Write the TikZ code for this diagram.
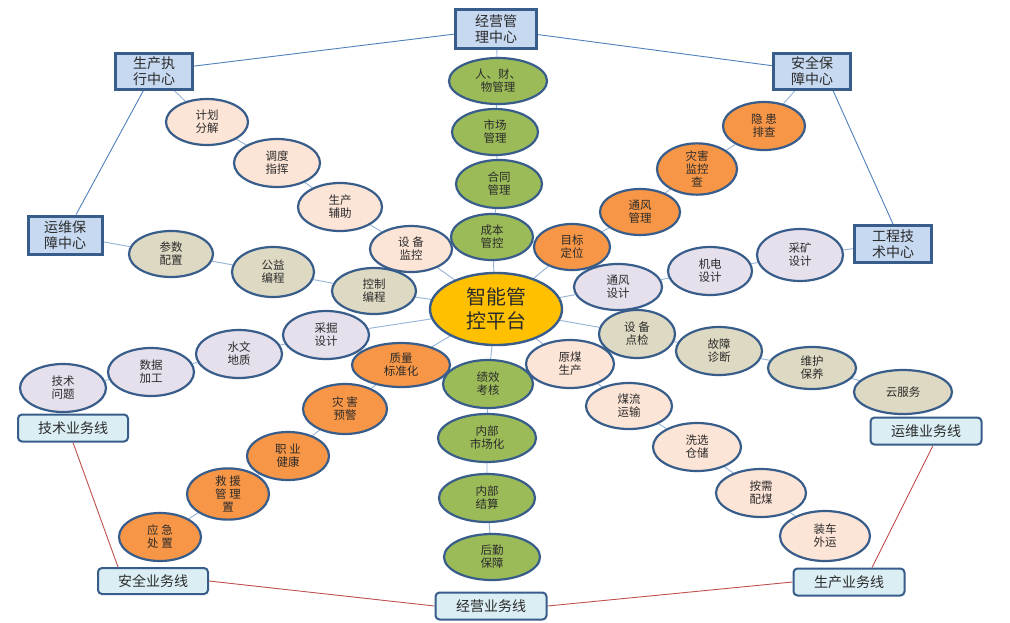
\documentclass[tikz,border=0pt]{standalone}
\usepackage{fontspec}
\setmainfont{Noto Sans CJK SC}
\usetikzlibrary{shapes.geometric,backgrounds}
\definecolor{bd}{HTML}{385D8A}
\definecolor{txt}{HTML}{2B2B2B}
\definecolor{gr}{HTML}{9BBB59}
\definecolor{pe}{HTML}{FCE4D6}
\definecolor{orr}{HTML}{F79646}
\definecolor{lv}{HTML}{E5E0EC}
\definecolor{tn}{HTML}{DDD9C3}
\definecolor{cy}{HTML}{FFC000}
\definecolor{topbox}{HTML}{C6D9F1}
\definecolor{botbox}{HTML}{DAEEF3}
\definecolor{lnk}{HTML}{95B3D7}
\definecolor{blueline}{HTML}{4F81BD}
\definecolor{redline}{HTML}{C0504D}
\begin{document}
\begin{tikzpicture}[x=1pt,y=-1pt,
  bub/.style={ellipse, draw=bd, line width=2.2pt, inner sep=0pt, align=center, text=txt,
    font=\fontsize{11.5}{13}\selectfont},
  hub/.style={ellipse, draw=bd, line width=2.4pt, inner sep=0pt, align=center, text=txt, fill=cy,
    font=\fontsize{20}{24}\selectfont},
  cbox/.style={rectangle, draw=bd, line width=3pt, fill=topbox, inner sep=0pt, align=center, text=txt,
    font=\fontsize{14}{16}\selectfont},
  lbox/.style={rectangle, rounded corners=4pt, draw=bd, line width=2pt, fill=botbox, inner sep=0pt, align=center, text=txt,
    font=\fontsize{14}{16}\selectfont},
  lk/.style={draw=lnk, line width=0.9pt},
  bl/.style={draw=blueline, line width=0.9pt},
  rl/.style={draw=redline, line width=0.9pt}]
\useasboundingbox (0,0) rectangle (1010,622);

% centre
\node[hub, minimum width=132pt, minimum height=72pt] (c) at (496,309) {智能管\\控平台};

% green column
\node[bub, fill=gr, minimum width=98pt, minimum height=46pt] (g1) at (498,81) {人、财、\\物管理};
\node[bub, fill=gr, minimum width=86pt, minimum height=46pt] (g2) at (495,132) {市场\\管理};
\node[bub, fill=gr, minimum width=86pt, minimum height=48pt] (g3) at (499,184) {合同\\管理};
\node[bub, fill=gr, minimum width=82pt, minimum height=46pt] (g4) at (492,237) {成本\\管控};
\node[bub, fill=gr, minimum width=90pt, minimum height=48pt] (g5) at (488,384) {绩效\\考核};
\node[bub, fill=gr, minimum width=98pt, minimum height=48pt] (g6) at (487,438) {内部\\市场化};
\node[bub, fill=gr, minimum width=96pt, minimum height=48pt] (g7) at (487,498) {内部\\结算};
\node[bub, fill=gr, minimum width=96pt, minimum height=46pt] (g8) at (492,557) {后勤\\保障};

% peach top-left
\node[bub, fill=pe, minimum width=82pt, minimum height=46pt] (p1) at (207,122) {计划\\分解};
\node[bub, fill=pe, minimum width=86pt, minimum height=48pt] (p2) at (277,163) {调度\\指挥};
\node[bub, fill=pe, minimum width=84pt, minimum height=48pt] (p3) at (340,207) {生产\\辅助};
\node[bub, fill=pe, minimum width=82pt, minimum height=46pt] (p4) at (411,249) {设 备\\监控};

% orange top-right
\node[bub, fill=orr, minimum width=82pt, minimum height=48pt] (o1) at (764,126) {隐 患\\排查};
\node[bub, fill=orr, minimum width=80pt, minimum height=48pt] (o2) at (697,169) {灾害\\监控\\查};
\node[bub, fill=orr, minimum width=80pt, minimum height=46pt] (o3) at (640,212) {通风\\管理};
\node[bub, fill=orr, minimum width=76pt, minimum height=46pt] (o4) at (572,247) {目标\\定位};

% lavender right
\node[bub, fill=lv, minimum width=86pt, minimum height=52pt] (l1) at (800,255) {采矿\\设计};
\node[bub, fill=lv, minimum width=84pt, minimum height=48pt] (l2) at (710,271) {机电\\设计};
\node[bub, fill=lv, minimum width=88pt, minimum height=46pt] (l3) at (618,287) {通风\\设计};

% tan right
\node[bub, fill=tn, minimum width=76pt, minimum height=48pt] (t1) at (637,334) {设 备\\点检};
\node[bub, fill=tn, minimum width=86pt, minimum height=48pt] (t2) at (719,351) {故障\\诊断};
\node[bub, fill=tn, minimum width=88pt, minimum height=42pt] (t3) at (812,368) {维护\\保养};
\node[bub, fill=tn, minimum width=98pt, minimum height=44pt] (t4) at (903,392) {云服务};

% peach bottom-right
\node[bub, fill=pe, minimum width=88pt, minimum height=48pt] (q1) at (570,364) {原煤\\生产};
\node[bub, fill=pe, minimum width=86pt, minimum height=46pt] (q2) at (629,406) {煤流\\运输};
\node[bub, fill=pe, minimum width=88pt, minimum height=48pt] (q3) at (697,447) {洗选\\仓储};
\node[bub, fill=pe, minimum width=90pt, minimum height=48pt] (q4) at (761,493) {按需\\配煤};
\node[bub, fill=pe, minimum width=90pt, minimum height=50pt] (q5) at (825,536) {装车\\外运};

% tan left
\node[bub, fill=tn, minimum width=84pt, minimum height=46pt] (u1) at (171,254) {参数\\配置};
\node[bub, fill=tn, minimum width=82pt, minimum height=50pt] (u2) at (273,272) {公益\\编程};
\node[bub, fill=tn, minimum width=84pt, minimum height=46pt] (u3) at (374,291) {控制\\编程};

% lavender left
\node[bub, fill=lv, minimum width=86pt, minimum height=48pt] (v1) at (326,335) {采掘\\设计};
\node[bub, fill=lv, minimum width=86pt, minimum height=48pt] (v2) at (239,354) {水文\\地质};
\node[bub, fill=lv, minimum width=86pt, minimum height=48pt] (v3) at (151,372) {数据\\加工};
\node[bub, fill=lv, minimum width=86pt, minimum height=48pt] (v4) at (63,388) {技术\\问题};

% orange bottom-left
\node[bub, fill=orr, minimum width=98pt, minimum height=44pt] (w1) at (401,365) {质量\\标准化};
\node[bub, fill=orr, minimum width=84pt, minimum height=50pt] (w2) at (345,409) {灾 害\\预警};
\node[bub, fill=orr, minimum width=82pt, minimum height=48pt] (w3) at (288,456) {职 业\\健康};
\node[bub, fill=orr, minimum width=82pt, minimum height=48pt] (w4) at (228,494) {救 援\\管 理\\置};
\node[bub, fill=orr, minimum width=82pt, minimum height=48pt] (w5) at (160,537) {应 急\\处 置};

% centre boxes
\node[cbox, minimum width=81pt, minimum height=39pt] (jy) at (496,29) {经营管\\理中心};
\node[cbox, minimum width=77pt, minimum height=36pt] (sc) at (154,71) {生产执\\行中心};
\node[cbox, minimum width=77pt, minimum height=36pt] (aq) at (812,71) {安全保\\障中心};
\node[cbox, minimum width=74pt, minimum height=38pt] (yw) at (65,235) {运维保\\障中心};
\node[cbox, minimum width=77pt, minimum height=37pt] (gc) at (893,244) {工程技\\术中心};

% business-line boxes
\node[lbox, minimum width=110pt, minimum height=27pt] (js) at (73,428) {技术业务线};
\node[lbox, minimum width=110pt, minimum height=26pt] (aqx) at (153,581) {安全业务线};
\node[lbox, minimum width=111pt, minimum height=27pt] (jyx) at (491,606) {经营业务线};
\node[lbox, minimum width=111pt, minimum height=27pt] (scx) at (849,582) {生产业务线};
\node[lbox, minimum width=111pt, minimum height=27pt] (ywx) at (926,431) {运维业务线};

\begin{pgfonlayer}{background}
  \fill[white] (0,0) rectangle (1010,622);
  \draw[lk] (jy) -- (g1) -- (g2) -- (g3) -- (g4) -- (c) -- (g5) -- (g6) -- (g7) -- (g8);
  \draw[lk] (sc) -- (p1) -- (p2) -- (p3) -- (p4) -- (c);
  \draw[lk] (aq) -- (o1) -- (o2) -- (o3) -- (o4) -- (c);
  \draw[lk] (gc) -- (l1) -- (l2) -- (l3) -- (c);
  \draw[lk] (c) -- (t1) -- (t2) -- (t3) -- (t4);
  \draw[lk] (c) -- (q1) -- (q2) -- (q3) -- (q4) -- (q5);
  \draw[lk] (yw) -- (u1) -- (u2) -- (u3) -- (c);
  \draw[lk] (c) -- (v1) -- (v2) -- (v3) -- (v4);
  \draw[lk] (c) -- (w1) -- (w2) -- (w3) -- (w4) -- (w5);
  % centre ring
  \draw[bl] (sc) -- (jy);
  \draw[bl] (jy) -- (aq);
  \draw[bl] (sc) -- (yw);
  \draw[bl] ([xshift=21pt]aq.south) -- (gc.north);
  % business-line ring
  \draw[rl] (js.south) -- ([xshift=-35pt]aqx.north);
  \draw[rl] (aqx.east) -- (jyx.west);
  \draw[rl] (jyx.east) -- (scx.west);
  \draw[rl] ([xshift=23pt]scx.north) -- ([xshift=7pt]ywx.south);
\end{pgfonlayer}
\end{tikzpicture}
\end{document}
